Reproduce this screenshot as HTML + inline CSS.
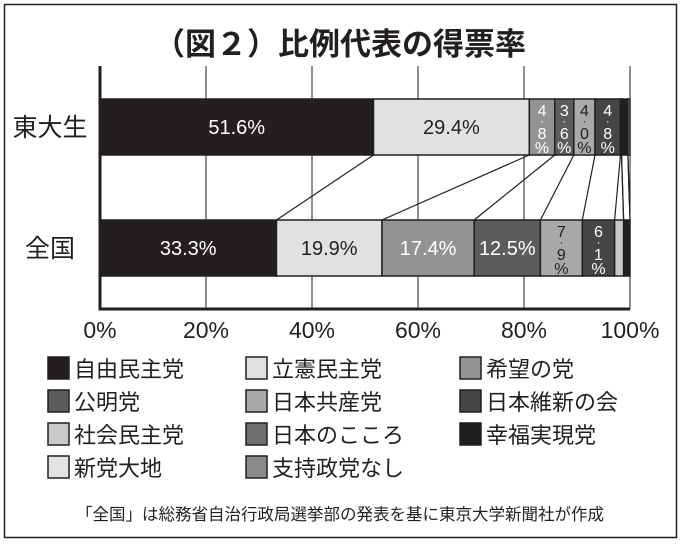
<!DOCTYPE html>
<html><head><meta charset="utf-8">
<style>
body{margin:0;width:681px;height:543px;background:#fff;overflow:hidden;font-family:"Liberation Sans","Noto Sans CJK JP",sans-serif;}
svg text{font-family:"Liberation Sans","Noto Sans CJK JP",sans-serif;}
</style></head><body>
<svg id="chart" width="681" height="543" xmlns="http://www.w3.org/2000/svg">
<rect x="4.5" y="4.5" width="672" height="533" fill="#fff" stroke="#231f20" stroke-width="1.5"/>
<text x="340" y="55" text-anchor="middle" font-size="31" font-weight="bold" fill="#231f20">（図２）比例代表の得票率</text>
<g id="plot"></g>
<g id="legend"></g>
<text x="340" y="520" text-anchor="middle" font-size="16.5" fill="#231f20">「全国」は総務省自治行政局選挙部の発表を基に東京大学新聞社が作成</text>
</svg>
<script>
const parties=["自由民主党","立憲民主党","希望の党","公明党","日本共産党","日本維新の会","社会民主党","日本のこころ","幸福実現党","新党大地","支持政党なし"];
const colors=["#231f20","#e1e1e1","#939393","#5c5c5c","#a9a9a9","#454545","#c9c9c9","#707070","#1f1f1f","#e3e3e3","#8a8a8a"];
const textColors=["#fff","#231f20","#fff","#fff","#231f20","#fff","#231f20","#fff","#fff","#231f20","#fff"];
const groups=["東大生","全国"];
const todai=[51.6,29.4,4.8,3.6,4.0,4.8,0.2,0.0,1.2,0.0,0.4];
const zenkoku=[33.3,19.9,17.4,12.5,7.9,6.1,1.7,0.0,1.2,0.0,0.0];
const series=[todai,zenkoku];
const ticks=[0,20,40,60,80,100];
const NS="http://www.w3.org/2000/svg";
const X0=100,X1=630,YT=66,YB=309;
const xs=v=>X0+(X1-X0)*v/100;
const barY=[99,220],barH=56;
const plot=document.getElementById('plot');
function mk(tag,attrs,parent){const e=document.createElementNS(NS,tag);for(const k in attrs)e.setAttribute(k,attrs[k]);(parent||plot).appendChild(e);return e;}
// gridlines
ticks.forEach(t=>{
  const l=mk('line',{x1:xs(t),x2:xs(t),y1:YT,y2:YB,stroke:'#231f20','stroke-width':t===0?3:1});
  
  
  const tx=mk('text',{x:xs(t),y:338,'text-anchor':'middle','font-size':23,fill:'#231f20'});
  tx.textContent=t+'%';
  
  
});
const ax=mk('line',{x1:X0-1.5,x2:X1,y1:YB,y2:YB,stroke:'#231f20','stroke-width':3});


// connector lines
let c0=0,c1=0;
for(let i=0;i<parties.length-1;i++){
  c0+=todai[i];c1+=zenkoku[i];
  if(c0>99.9)break;
  const l=mk('line',{x1:xs(c0),y1:barY[0]+barH,x2:xs(c1),y2:barY[1],stroke:'#231f20','stroke-width':1.2});
  
  
}
// bars
series.forEach((vals,gi)=>{
  let cum=0;
  const lab=mk('text',{x:50,y:barY[gi]+barH/2+9,'text-anchor':'middle','font-size':25,fill:'#231f20'});
  lab.textContent=groups[gi];
  
  
  vals.forEach((v,i)=>{
    if(v<=0)return;
    const x=xs(cum),w=xs(cum+v)-xs(cum);
    const r=mk('rect',{x:x,y:barY[gi],width:w,height:barH,fill:colors[i],stroke:'#231f20','stroke-width':1.5});
    
    
    const cx=x+w/2;
    if(v>=10){
      const t=mk('text',{x:cx,y:barY[gi]+barH/2+7,'text-anchor':'middle','font-size':20,fill:textColors[i]});
      t.textContent=v.toFixed(1)+'%';
      
      
    }else if(v>=3){
      const s=v.toFixed(1);
      const chars=[s[0],'·',s[2],'%'];
      const ys=[barY[gi]+17,barY[gi]+26,barY[gi]+40,barY[gi]+54];
      chars.forEach((ch,k)=>{
        const t=mk('text',{x:cx,y:ys[k],'text-anchor':'middle','font-size':k===1?12:16,fill:textColors[i]});
        t.textContent=ch;
        
        
      });
    }
    cum+=v;
  });
});
// legend
const lg=document.getElementById('legend');
const colX=[48,246,460],rowY=[357,390,423,456];
parties.forEach((p,i)=>{
  const col=i<4?(i===3?0:[0,1,2][i]):0;
  const order=[[0,0],[1,0],[2,0],[0,1],[1,1],[2,1],[0,2],[1,2],[2,2],[0,3],[1,3]][i];
  const x=colX[order[0]],y=rowY[order[1]];
  const r=mk('rect',{x:x,y:y,width:21,height:22,fill:colors[i],stroke:'#231f20','stroke-width':1.5},lg);
  
  
  const t=mk('text',{x:x+26,y:y+20,'font-size':22,fill:'#231f20'},lg);
  t.textContent=p;
  
  
});
</script>
</body></html>
